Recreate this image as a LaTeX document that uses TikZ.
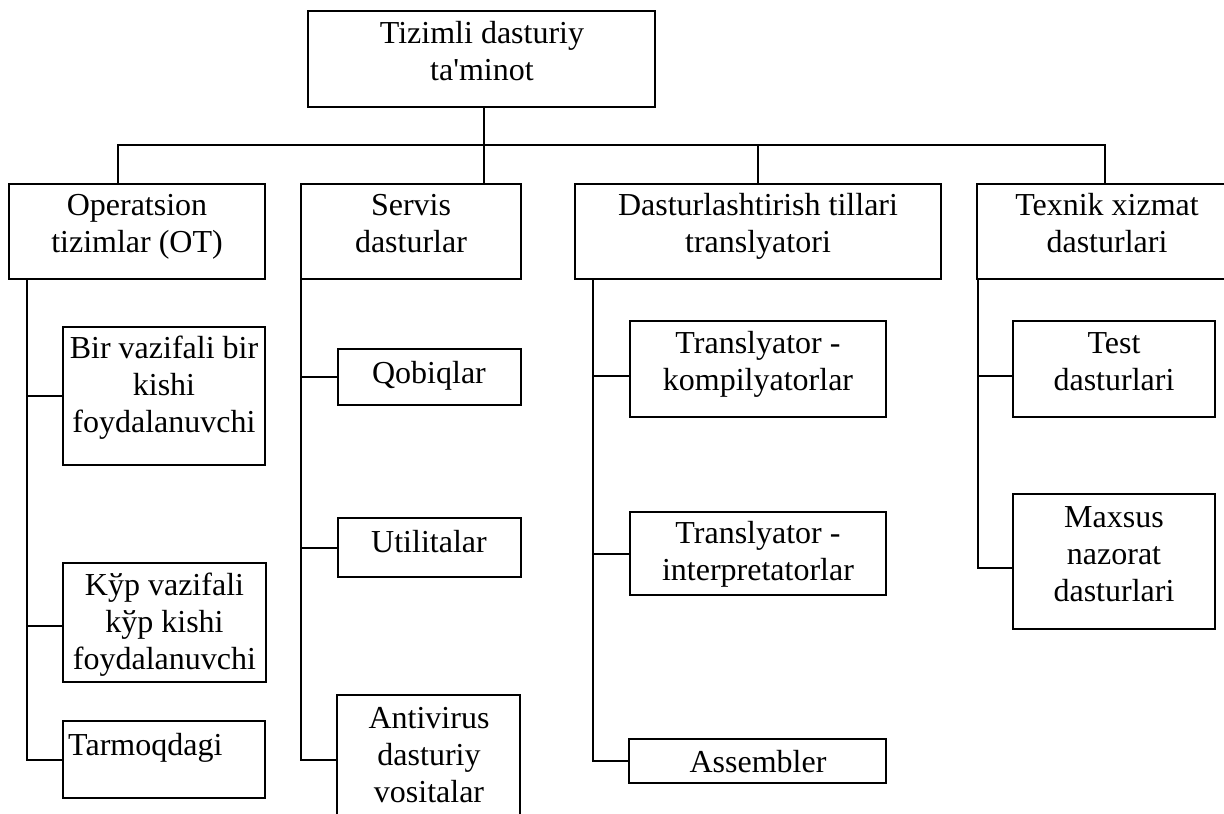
\documentclass[tikz,border=0pt]{standalone}
\usepackage{fontspec}
\setmainfont{Liberation Serif}[Ligatures=TeXOff]
\tikzset{
  box/.style={draw, line width=2pt, inner sep=0pt, outer sep=0pt, anchor=north west},
  txt/.style={font=\fontsize{32}{37}\selectfont, align=center, inner sep=0pt, anchor=north},
  link/.style={line width=2pt},
}
% \cell{name}{left}{top}{right}{bottom}: an empty framed box given by its corners
\newcommand\cell[5]{\node[box, minimum width={#4pt-#2pt}, minimum height={#5pt-#3pt}] (#1) at (#2,#3) {};}
\begin{document}
\begin{tikzpicture}[x=1pt, y=-1pt]
\useasboundingbox (0,0) rectangle (1224,814);

% boxes
\cell{root}{308}{11}{655}{107}
\cell{ot}{9}{184}{265}{279}
\cell{servis}{301}{184}{521}{279}
\cell{dast}{575}{184}{941}{279}
\cell{texnik}{977}{184}{1233}{279}
\cell{bir}{63}{327}{265}{465}
\cell{kyp}{63}{563}{266}{682}
\cell{tarm}{63}{721}{265}{798}
\cell{qob}{338}{349}{521}{405}
\cell{util}{338}{518}{521}{577}
\cell{anti}{337}{695}{520}{825}
\cell{komp}{630}{321}{886}{417}
\cell{interp}{630}{512}{886}{595}
\cell{asm}{629}{739}{886}{783}
\cell{test}{1013}{321}{1215}{417}
\cell{maxsus}{1013}{494}{1215}{629}

% labels (each anchored at the top of its first line)
\node[txt] (root-t) at (482,{43-25.9}) {\strut Tizimli dasturiy\\ta'minot};
\node[txt] (ot-t) at (137,{215-25.9}) {\strut Operatsion\\tizimlar (OT)};
\node[txt] (servis-t) at (411,{215-25.9}) {\strut Servis\\dasturlar};
\node[txt] (dast-t) at (758,{215-25.9}) {\strut Dasturlashtirish tillari\\translyatori};
\node[txt] (texnik-t) at (1107,{215-25.9}) {\strut Texnik xizmat\\dasturlari};
\node[txt] (bir-t) at (164,{358-25.9}) {\strut Bir vazifali bir\\kishi\\foydalanuvchi};
\node[txt] (kyp-t) at (164.5,{595-25.9}) {\strut Kўp vazifali\\kўp kishi\\foydalanuvchi};
\node[txt, anchor=north west] (tarm-t) at (68,{755-25.9}) {\strut Tarmoqdagi};
\node[txt] (qob-t) at (429,{383-25.9}) {\strut Qobiqlar};
\node[txt] (util-t) at (429,{552-25.9}) {\strut Utilitalar};
\node[txt] (anti-t) at (429,{728-25.9}) {\strut Antivirus\\dasturiy\\vositalar};
\node[txt] (komp-t) at (758,{353-25.9}) {\strut Translyator -\\kompilyatorlar};
\node[txt] (interp-t) at (758,{543-25.9}) {\strut Translyator -\\interpretatorlar};
\node[txt] (asm-t) at (758,{772-25.9}) {\strut Assembler};
\node[txt] (test-t) at (1114,{353-25.9}) {\strut Test\\dasturlari};
\node[txt] (maxsus-t) at (1114,{527-25.9}) {\strut Maxsus\\nazorat\\dasturlari};

% top level bus
\coordinate (hub) at (484,145);
\coordinate (busL) at (118,145);
\coordinate (busR) at (1105,145);
\draw[link] (root.south -| hub) -- (hub |- servis.north);
\draw[link] (ot.north -| busL) -- (busL) -- (busR) -- (busR |- texnik.north);
\draw[link] (dast.north) -- (dast.north |- hub);

% trunk lines and branches
\coordinate (t1) at (27,0);
\coordinate (t2) at (301,0);
\coordinate (t3) at (593,0);
\coordinate (t4) at (978,0);
\coordinate (r1) at (0,376);
\coordinate (r2) at (0,568);

\draw[link] (ot.south -| t1) |- (tarm.west);
\draw[link] (t1 |- bir.west) -- (bir.west);
\draw[link] (t1 |- 0,626) -- (kyp.west |- 0,626);

\draw[link] (servis.south west) |- (anti.west);
\draw[link] (t2 |- qob.west) -- (qob.west);
\draw[link] (t2 |- util.west) -- (util.west);

\draw[link] (dast.south -| t3) |- (asm.west);
\draw[link] (t3 |- r1) -- (komp.west |- r1);
\draw[link] (t3 |- interp.west) -- (interp.west);

\draw[link] (texnik.south -| t4) |- (maxsus.west |- r2);
\draw[link] (t4 |- r1) -- (test.west |- r1);
\end{tikzpicture}
\end{document}
